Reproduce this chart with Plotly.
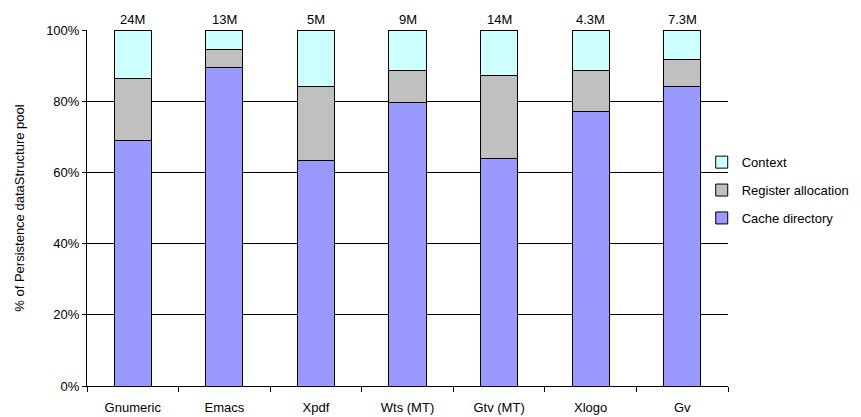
import plotly.graph_objects as go

programs = ["Gnumeric", "Emacs", "Xpdf", "Wts (MT)", "Gtv (MT)", "Xlogo", "Gv"]
pool_sizes = ["24M", "13M", "5M", "9M", "14M", "4.3M", "7.3M"]

cache_directory = [69.1, 89.4, 63.4, 79.6, 63.8, 77.0, 84.1]
register_allocation = [17.3, 5.0, 20.7, 9.1, 23.4, 11.7, 7.6]
context = [13.6, 5.6, 15.9, 11.3, 12.8, 11.3, 8.3]

# (name, values, fill colour, position in legend)
series = [
    ("Cache directory", cache_directory, "#9999FF", 3),
    ("Register allocation", register_allocation, "#C0C0C0", 2),
    ("Context", context, "#CCFFFF", 1),
]

FONT = "Liberation Sans, Arial, sans-serif"
FS = 13

fig = go.Figure()
for name, vals, color, rank in series:
    fig.add_trace(go.Bar(
        name=name,
        legendgroup=name,
        legendrank=rank,
        x=programs,
        y=vals,
        marker=dict(color=color, line=dict(color="#000000", width=1)),
    ))

# dataset size labels above each column
for prog, size in zip(programs, pool_sizes):
    fig.add_annotation(
        x=prog, y=1, xref="x", yref="paper",
        text=size, showarrow=False,
        yanchor="bottom", yshift=1,
        font=dict(family=FONT, size=FS, color="#000000"),
    )

fig.update_layout(
    barmode="stack",
    bargap=0.595,
    width=861, height=417,
    margin=dict(l=87, r=133, t=30, b=31, autoexpand=False),
    paper_bgcolor="#FFFFFF",
    plot_bgcolor="#FFFFFF",
    font=dict(family=FONT, size=FS, color="#000000"),
    legend=dict(
        traceorder="grouped",
        x=0.959, xanchor="left",
        y=0.55, yanchor="middle",
        font=dict(family=FONT, size=FS, color="#000000"),
        tracegroupgap=8,
        bgcolor="rgba(0,0,0,0)",
    ),
    xaxis=dict(
        type="category",
        automargin=False,
        tickson="boundaries",
        ticks="outside", ticklen=5, tickcolor="#000000",
        showline=True, linecolor="#000000", linewidth=1,
        showgrid=False,
        tickfont=dict(family=FONT, size=FS),
        ticklabelstandoff=9,
    ),
    yaxis=dict(
        automargin=False,
        range=[0, 100],
        tickvals=[0, 20, 40, 60, 80, 100],
        ticktext=["0%", "20%", "40%", "60%", "80%", "100%"],
        ticks="outside", ticklen=4, tickcolor="#000000",
        showline=True, linecolor="#000000", linewidth=1,
        showgrid=True, gridcolor="#000000", gridwidth=1,
        zeroline=False,
        tickfont=dict(family=FONT, size=FS),
        title=dict(text="% of Persistence dataStructure pool",
                   font=dict(family=FONT, size=FS), standoff=18),
    ),
)

fig.write_html("out.html")
